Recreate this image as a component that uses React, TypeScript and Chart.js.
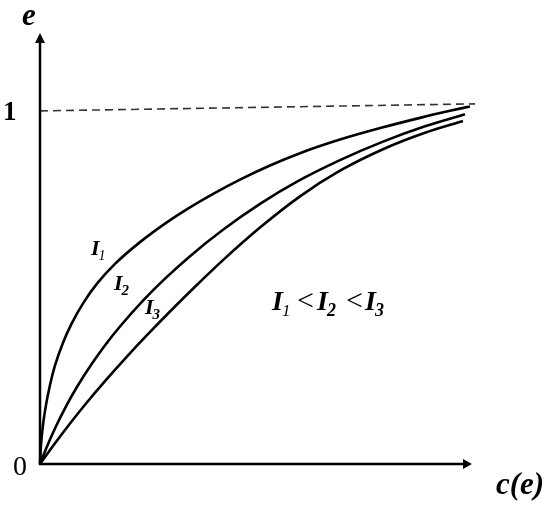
import React, { useEffect, useRef } from "react";
import { Chart, registerables } from "chart.js";

Chart.register(...registerables);

// Curve data (c, e)
const i1C = [0, 0.0025, 0.0075, 0.015, 0.025, 0.0375, 0.0575, 0.08, 0.11, 0.1425, 0.1875, 0.25, 0.3125, 0.375, 0.4375, 0.5, 0.575, 0.65, 0.75, 0.8575, 0.95, 1.025, 1.075];
const i1E = [0, 0.0538, 0.1105, 0.1671, 0.2238, 0.279, 0.3436, 0.3997, 0.4592, 0.5108, 0.5669, 0.6284, 0.6809, 0.7269, 0.768, 0.8055, 0.8455, 0.8803, 0.9188, 0.9535, 0.9803, 1.0002, 1.0127];

const i2C = [0, 0.0175, 0.04, 0.065, 0.095, 0.13, 0.165, 0.2, 0.2575, 0.3125, 0.375, 0.4575, 0.55, 0.6425, 0.75, 0.8575, 0.9625, 1.0625];
const i2E = [0, 0.0496, 0.1068, 0.1635, 0.223, 0.2844, 0.3399, 0.3895, 0.4626, 0.5249, 0.5887, 0.6635, 0.7368, 0.7997, 0.8606, 0.913, 0.9564, 0.9904];

const i3C = [0, 0.0375, 0.075, 0.115, 0.1625, 0.215, 0.265, 0.325, 0.3875, 0.4575, 0.55, 0.65, 0.75, 0.8575, 0.9625, 1.0575];
const i3E = [0, 0.0586, 0.1147, 0.1714, 0.2348, 0.3014, 0.362, 0.432, 0.5021, 0.5775, 0.6697, 0.7581, 0.8306, 0.8915, 0.938, 0.9714];

const limitC = [0, 1.0875];
const limitE = [1.0, 1.02];

const yTickLabels = ["0", "1"];
const yAxisTitle = "e";
const xAxisTitle = "c(e)";
const curveNames = ["1", "2", "3"];

const toPoints = (xs: number[], ys: number[]) => xs.map((x, i) => ({ x, y: ys[i] }));

const serif = '"Liberation Serif", "DejaVu Serif", serif';

const drawPlugin = {
  id: "sketch",
  afterDraw(chart: any) {
    const ctx = chart.ctx as CanvasRenderingContext2D;
    const xs = chart.scales.x;
    const ys = chart.scales.y;
    const x0 = xs.getPixelForValue(0);
    const y0 = ys.getPixelForValue(0);
    const { top, right } = chart.chartArea;
    ctx.save();
    ctx.strokeStyle = "#000";
    ctx.fillStyle = "#000";
    ctx.lineWidth = 2.5;
    // y axis
    ctx.beginPath();
    ctx.moveTo(x0, y0 + 1);
    ctx.lineTo(x0, top + 6);
    ctx.stroke();
    ctx.beginPath();
    ctx.moveTo(x0, top - 2);
    ctx.lineTo(x0 - 5, top + 8);
    ctx.lineTo(x0 + 5, top + 8);
    ctx.closePath();
    ctx.fill();
    // x axis
    ctx.beginPath();
    ctx.moveTo(x0 - 1, y0);
    ctx.lineTo(right - 6, y0);
    ctx.stroke();
    ctx.beginPath();
    ctx.moveTo(right, y0);
    ctx.lineTo(right - 9, y0 - 5);
    ctx.lineTo(right - 9, y0 + 5);
    ctx.closePath();
    ctx.fill();

    ctx.textAlign = "left";
    ctx.textBaseline = "alphabetic";
    // tick labels
    const y1 = ys.getPixelForValue(1);
    ctx.font = `bold 27px ${serif}`;
    ctx.fillText(yTickLabels[1], x0 - 37, y1 + 9);
    ctx.font = `28px ${serif}`;
    ctx.fillText(yTickLabels[0], x0 - 27, y0 + 11);
    // axis titles
    ctx.font = `italic bold 31px ${serif}`;
    ctx.fillText(yAxisTitle, x0 - 18, 25);
    ctx.fillText(xAxisTitle, 496, y0 + 30);

    const label = (x: number, y: number, sub: string, big: number, small: number, subBold: boolean) => {
      ctx.font = `italic bold ${big}px ${serif}`;
      ctx.fillText("I", x, y);
      const w = ctx.measureText("I").width;
      ctx.font = `italic ${subBold ? "bold " : ""}${small}px ${serif}`;
      ctx.fillText(sub, x + w - 1, y + Math.round(small * 0.35));
    };
    // curve labels
    label(91, 255, curveNames[0], 22, 14, false);
    label(114, 290, curveNames[1], 22, 15, true);
    label(145, 314, curveNames[2], 22, 15, true);

    // ordering label
    label(272, 310, curveNames[0], 28, 17, false);
    ctx.font = `30px ${serif}`;
    ctx.fillText("<", 297, 310);
    label(317, 310, curveNames[1], 28, 18, true);
    ctx.font = `30px ${serif}`;
    ctx.fillText("<", 346, 310);
    label(365, 310, curveNames[2], 28, 18, true);
    ctx.restore();
  },
};

export default function App() {
  const ref = useRef<HTMLCanvasElement | null>(null);
  useEffect(() => {
    if (!ref.current) return;
    const curve = (xs: number[], ys: number[]) => ({
      data: toPoints(xs, ys),
      borderColor: "#000",
      borderWidth: 2.6,
      pointRadius: 0,
      cubicInterpolationMode: "monotone" as const,
      clip: false as any,
      fill: false,
    });
    const chart = new Chart(ref.current, {
      type: "line",
      data: {
        datasets: [
          {
            data: toPoints(limitC, limitE),
            borderColor: "#333",
            borderWidth: 1.6,
            borderDash: [8, 5],
            pointRadius: 0,
            clip: false as any,
            fill: false,
          },
          curve(i1C, i1E),
          curve(i2C, i2E),
          curve(i3C, i3E),
        ],
      },
      options: {
        responsive: false,
        animation: false,
        layout: { padding: { left: 40, top: 35, right: 78, bottom: 45 } },
        plugins: { legend: { display: false }, tooltip: { enabled: false } },
        scales: {
          x: { type: "linear", min: 0, max: 1.08, display: false },
          y: { type: "linear", min: 0, max: 1.215, display: false },
        },
      },
      plugins: [drawPlugin],
    });
    return () => chart.destroy();
  }, []);
  return (
    <div style={{ position: "absolute", left: 0, top: 0, width: 550, height: 509, background: "#fff" }}>
      <canvas ref={ref} width={550} height={509} style={{ width: 550, height: 509 }} />
    </div>
  );
}
